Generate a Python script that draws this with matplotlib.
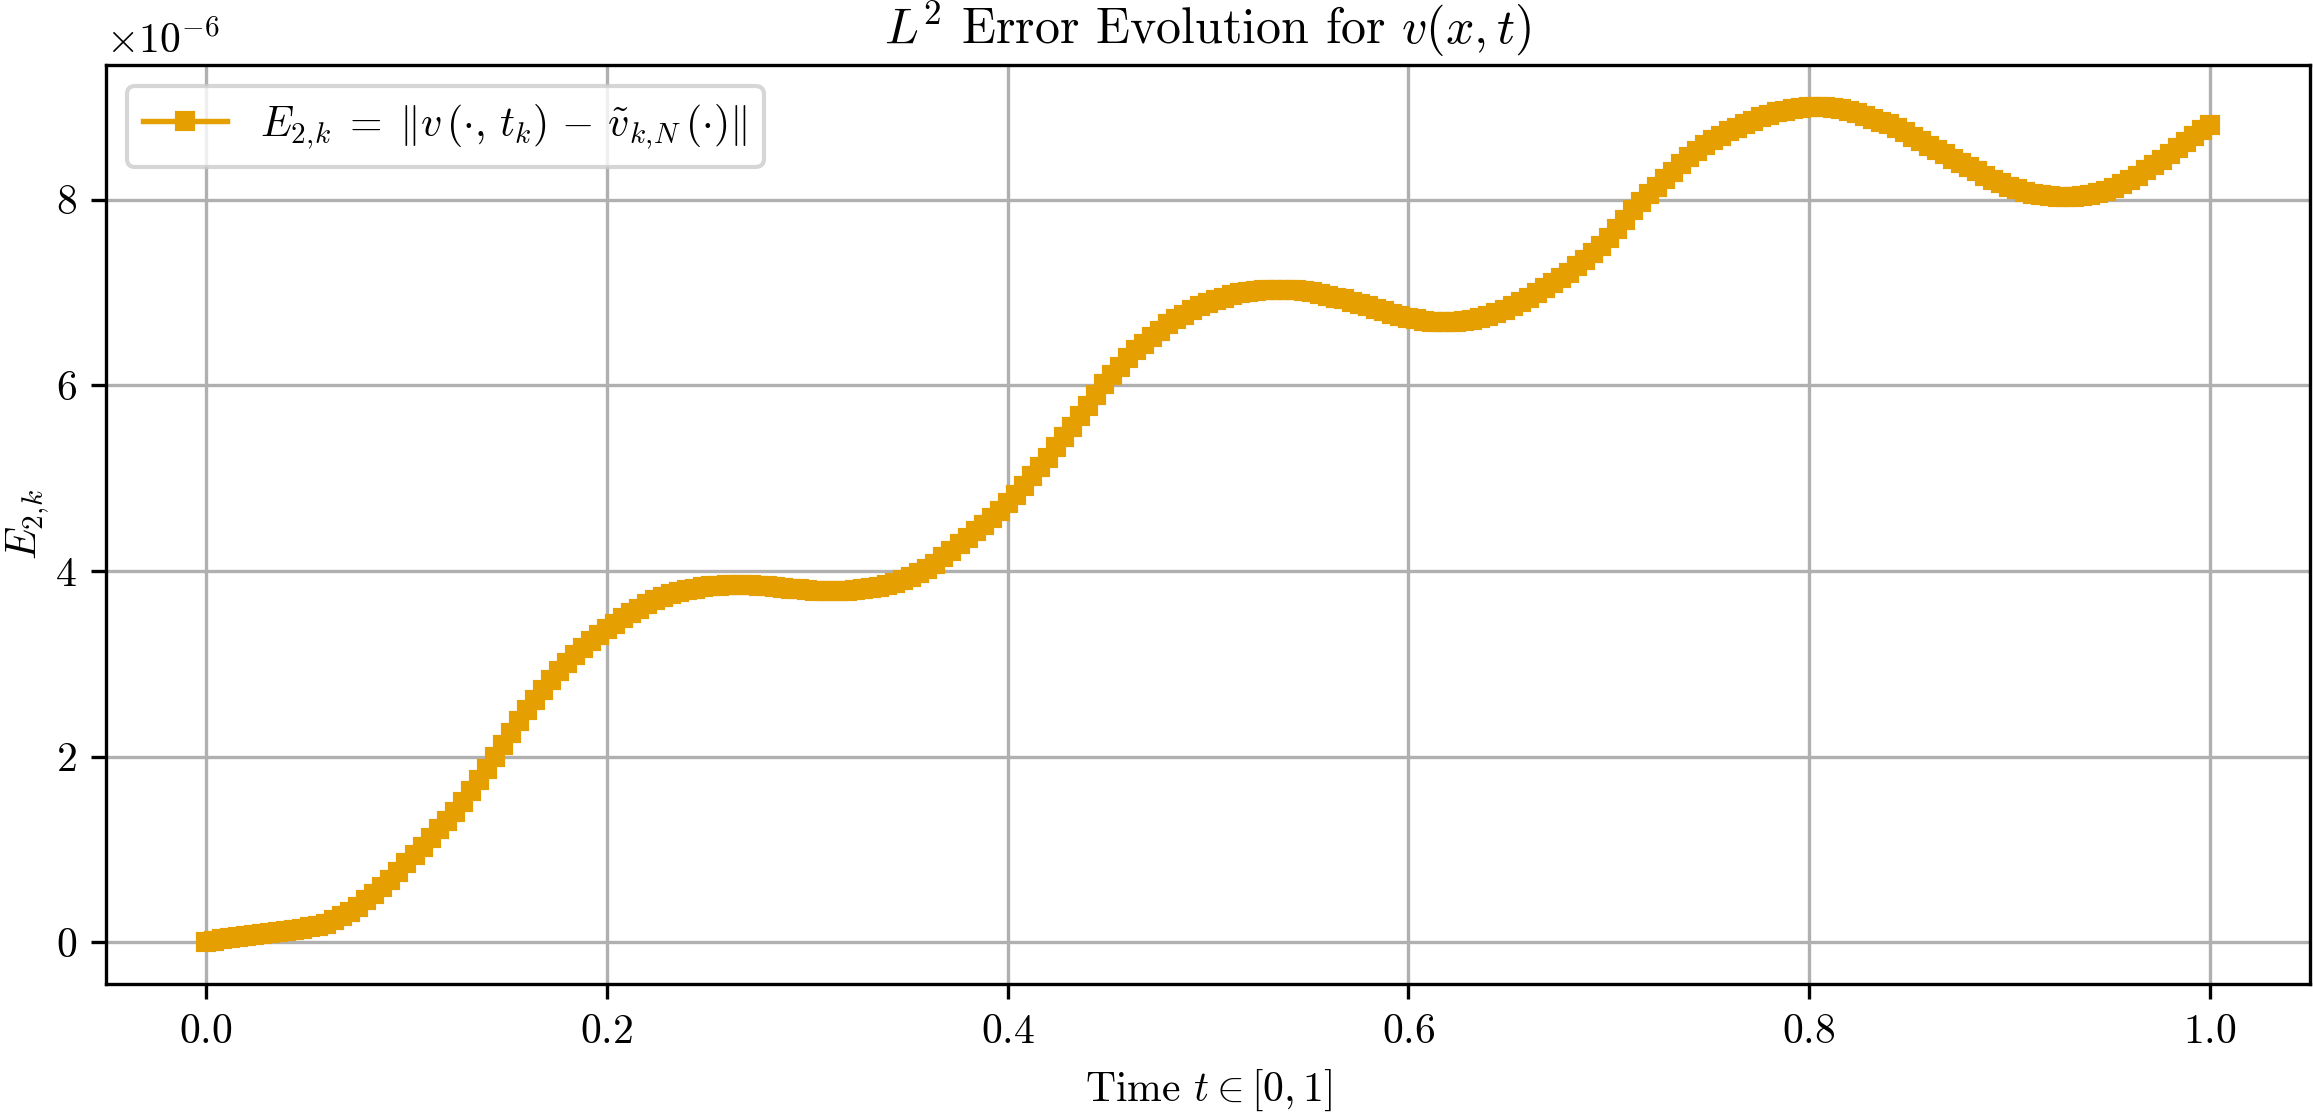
import numpy as np
import matplotlib
matplotlib.use("Agg")
import matplotlib.pyplot as plt

plt.rcParams.update({
    "font.family": "serif",
    "font.serif": ["cmr10", "DejaVu Serif"],
    "mathtext.fontset": "cm",
    "axes.unicode_minus": False,
    "axes.formatter.use_mathtext": True,
    "font.size": 10,
})

# time grid (251 samples on [0, 1])
t_values = np.linspace(0.0, 1.0, 251)

# L2 error values (units of 1e-6)
err_e6 = [
    0.000, 0.015, 0.030, 0.042, 0.053, 0.064, 0.075, 0.085, 0.096, 0.108, 0.118, 0.130, 0.145, 0.160, 0.178, 0.200,
    0.235, 0.280, 0.330, 0.385, 0.450, 0.520, 0.595, 0.675, 0.760, 0.850, 0.940, 1.030, 1.120, 1.215, 1.310, 1.405,
    1.51, 1.63, 1.75, 1.87, 1.995, 2.125, 2.255, 2.385, 2.50, 2.61, 2.72, 2.83, 2.92, 3.01, 3.095, 3.17,
    3.24, 3.305, 3.37, 3.43, 3.49, 3.545, 3.595, 3.645, 3.685, 3.72, 3.75, 3.775, 3.795, 3.81, 3.825, 3.835,
    3.843, 3.848, 3.850, 3.850, 3.845, 3.840, 3.835, 3.828, 3.820, 3.810, 3.802, 3.795, 3.788, 3.783, 3.780, 3.779,
    3.782, 3.790, 3.802, 3.815, 3.830, 3.850, 3.875, 3.905, 3.935, 3.975, 4.025, 4.08, 4.145, 4.215, 4.285, 4.355,
    4.425, 4.50, 4.575, 4.65, 4.73, 4.82, 4.92, 5.02, 5.12, 5.22, 5.33, 5.44, 5.55, 5.665, 5.78, 5.90,
    6.01, 6.11, 6.20, 6.29, 6.375, 6.45, 6.52, 6.59, 6.655, 6.71, 6.76, 6.81, 6.855,
    6.89, 6.92, 6.945, 6.97, 6.99, 7.005, 7.015, 7.025, 7.03, 7.03, 7.028, 7.022, 7.012, 7.0,
    6.985, 6.965, 6.945, 6.925, 6.90, 6.875, 6.85, 6.82, 6.795, 6.77, 6.745, 6.725,
    6.71, 6.695, 6.685, 6.68, 6.678, 6.68, 6.69, 6.705, 6.725, 6.75, 6.78, 6.815, 6.855, 6.895, 6.94,
    6.99, 7.045, 7.10, 7.155, 7.215, 7.285, 7.355, 7.425, 7.50, 7.59,
    7.685, 7.785, 7.885, 7.975, 8.06, 8.14, 8.22, 8.30, 8.38, 8.455, 8.525, 8.585, 8.64, 8.69, 8.735,
    8.775, 8.815, 8.85, 8.885, 8.915, 8.94, 8.96, 8.978, 8.99, 8.997,
    9.0, 8.998, 8.99, 8.975, 8.955, 8.93, 8.9, 8.87, 8.84, 8.81,
    8.775, 8.73, 8.68, 8.63, 8.58, 8.535, 8.49, 8.44, 8.395, 8.35, 8.305, 8.26, 8.215, 8.175, 8.14,
    8.11, 8.085, 8.065, 8.05, 8.04, 8.033, 8.03, 8.032, 8.038, 8.05,
    8.07, 8.095, 8.125, 8.165, 8.21, 8.26, 8.315, 8.37, 8.43, 8.495, 8.56, 8.625, 8.69, 8.75, 8.80,
]
err = np.array(err_e6) * 1e-6

title = r"$L^2$ Error Evolution for $v(x,t)$"
xlabel = r"Time $t \in [0,1]$"
ylabel = r"$E_{2,\!k}$"
legend_label = (r"$E_{2,\!k} \;=\; \|v\,(\cdot,\, t_k) \,-\, "
                r"\tilde{v}_{k,\!N}\,(\cdot)\|$")

fig = plt.figure(figsize=(2313 / 300, 1112 / 300), dpi=300)
ax = fig.add_axes([0.0458, 0.1151, 0.9529, 0.8264])
ax.plot(t_values, err, color="#E69F00", marker="s", markersize=3.8,
        linewidth=1.3, label=legend_label)
ax.set_title(title, pad=5)
ax.set_xlabel(xlabel)
ax.set_ylabel(ylabel, labelpad=1)
ax.grid(True, color="#b0b0b0", linewidth=0.8)
ax.legend(loc="upper left")
fig.savefig("out.png", dpi=300)
